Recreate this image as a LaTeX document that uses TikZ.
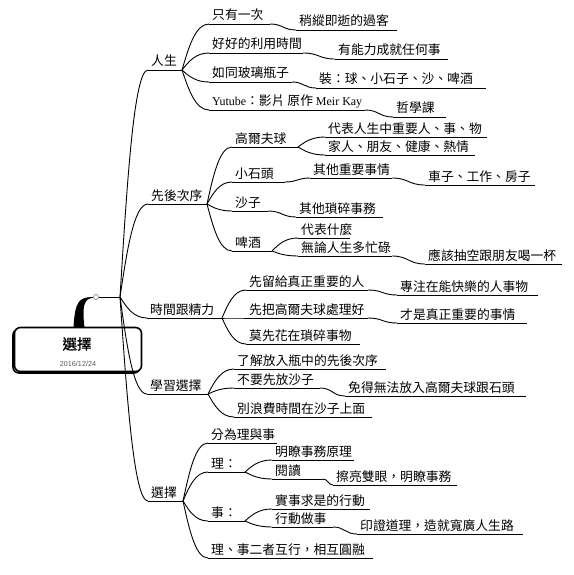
\documentclass[tikz,border=0pt]{standalone}
\usepackage{fontspec}
\newfontfamily\cjk{Noto Sans CJK TC}
\newfontfamily\cjkb[FakeBold=1.2]{Noto Sans CJK TC}
\newfontfamily\latserif{Liberation Serif}
\newfontfamily\latsans{Liberation Sans}
\usetikzlibrary{calc}
\newcommand\mmtopic[5]{%
  \coordinate (#1s) at (#2,#4);
  \coordinate (#1e) at (#3,#4);
  \draw[uline] (#1s) -- (#1e);
  \node[lbl] (#1) at ($(#1s)+(3,-4)$) {#5};
}
\begin{document}
\begin{tikzpicture}[x=1pt,y=-1pt,
  uline/.style={line width=0.9pt},
  conn/.style={line width=0.9pt},
  lbl/.style={anchor=base west, inner sep=0pt, font=\cjk\fontsize{12.8}{15}\selectfont},
  mm/.style={to path={let \p1=(\tikztostart), \p2=(\tikztotarget) in .. controls ({\x1+0.25*(\x2-\x1)},{\y1+0.5*(\y2-\y1)}) and ({\x1+0.5*(\x2-\x1)},\y2) .. (\tikztotarget)}},
  ms/.style={to path={let \p1=(\tikztostart), \p2=(\tikztotarget) in .. controls ({0.5*(\x1+\x2)},\y1) and ({0.5*(\x1+\x2)},\y2) .. (\tikztotarget)}},
  rootbox/.style={draw, line width=1.6pt, rounded corners=6pt, minimum width=127pt, minimum height=44pt, inner sep=0pt, fill=white},
]
\useasboundingbox (0,0) rectangle (573,575);

% central topic
\draw[line width=1.6pt, rounded corners=6pt] (13,329) rectangle (140,373);
\node[rootbox] (root) at (78,349.5) {};
\node[font=\cjkb\fontsize{14.5}{16}\selectfont, inner sep=0pt] (title) at (77,344) {選擇};
\node[font=\latsans\fontsize{7.2}{8}\selectfont, text=black!65, inner sep=0pt] (date) at (78,363.5) {2016/12/24};
\fill (73.5,327.5) .. controls (75,301) and (79,297.2) .. (93,297) -- (93,297.8) .. controls (84,298.5) and (82,306) .. (84.5,327.5) -- cycle;
\node[circle, draw=black!55, fill=white, inner sep=0pt, minimum size=5pt, line width=0.6pt] (knob) at (96,297) {};
\coordinate (H) at (120,297);
\draw[conn] (knob) -- (H);

% main branches
\mmtopic{L1}{148}{182}{70}{人生}
\mmtopic{L2}{148}{207}{204}{先後次序}
\mmtopic{L3}{147}{222}{318}{時間跟精力}
\mmtopic{L4}{147}{208}{394}{學習選擇}
\mmtopic{L5}{148}{183}{501}{選擇}
\foreach \t in {L1,L2,L3,L4,L5} \draw[conn] (H) to[mm] (\t s);

% 人生
\mmtopic{a1}{209}{270}{24}{只有一次}
\mmtopic{a1a}{296}{397}{30}{稍縱即逝的過客}
\mmtopic{a2}{209}{303}{53}{好好的利用時間}
\mmtopic{a2a}{335}{448}{59}{有能力成就任何事}
\mmtopic{a3}{209}{292}{82}{如同玻璃瓶子}
\mmtopic{a3a}{316}{486}{88}{裝：球、小石子、沙、啤酒}
\mmtopic{a4}{209}{365}{110}{{\latserif\fontsize{12}{14}\selectfont Yutube}：影片 原作 {\latserif\fontsize{12}{14}\selectfont Meir Kay}}
\mmtopic{a4a}{393}{446}{117}{哲學課}
\foreach \t in {a1,a2,a3,a4} {\draw[conn] (L1e) to[mm] (\t s); \draw[conn] (\t e) to[ms] (\t as);}

% 先後次序
\mmtopic{b1}{232}{298}{147}{高爾夫球}
\mmtopic{b1a}{325}{487}{137}{代表人生中重要人、事、物}
\mmtopic{b1b}{325}{475}{155}{家人、朋友、健康、熱情}
\mmtopic{b2}{232}{285}{182}{小石頭}
\mmtopic{b2a}{310}{392}{178}{其他重要事情}
\mmtopic{b2b}{425}{535}{185}{車子、工作、房子}
\mmtopic{b3}{232}{268}{211}{沙子}
\mmtopic{b3a}{296}{383}{217}{其他瑣碎事務}
\mmtopic{b4}{232}{272}{251}{啤酒}
\mmtopic{b4a}{298}{350}{238}{代表什麼}
\mmtopic{b4b}{298}{392}{256}{無論人生多忙碌}
\mmtopic{b4c}{425}{562}{264}{應該抽空跟朋友喝一杯}
\foreach \t in {b1,b2,b3,b4} \draw[conn] (L2e) to[mm] (\t s);
\draw[conn] (b1e) to[mm] (b1as);
\draw[conn] (b1e) to[mm] (b1bs);
\draw[conn] (b2e) to[ms] (b2as);
\draw[conn] (b2ae) to[ms] (b2bs);
\draw[conn] (b3e) to[ms] (b3as);
\draw[conn] (b4e) to[mm] (b4as);
\draw[conn] (b4e) to[mm] (b4bs);
\draw[conn] (b4be) to[ms] (b4cs);

% 時間跟精力
\mmtopic{c1}{246}{368}{290}{先留給真正重要的人}
\mmtopic{c1a}{397}{538}{295}{專注在能快樂的人事物}
\mmtopic{c2}{246}{368}{318}{先把高爾夫球處理好}
\mmtopic{c2a}{397}{527}{323}{才是真正重要的事情}
\mmtopic{c3}{246}{360}{344}{莫先花在瑣碎事物}
\foreach \t in {c1,c2,c3} \draw[conn] (L3e) to[mm] (\t s);
\draw[conn] (c1e) to[ms] (c1as);
\draw[conn] (c2e) to[ms] (c2as);

% 學習選擇
\mmtopic{d1}{234}{386}{369}{了解放入瓶中的先後次序}
\mmtopic{d2}{234}{320}{388}{不要先放沙子}
\mmtopic{d2a}{345}{526}{396}{免得無法放入高爾夫球跟石頭}
\mmtopic{d3}{234}{372}{417}{別浪費時間在沙子上面}
\foreach \t in {d1,d2,d3} \draw[conn] (L4e) to[mm] (\t s);
\draw[conn] (d2e) to[ms] (d2as);

% 選擇
\mmtopic{e1}{208}{277}{443}{分為理與事}
\mmtopic{e2}{208}{245}{472}{理：}
\mmtopic{e2a}{272}{354}{460}{明瞭事務原理}
\mmtopic{e2b}{272}{323}{479}{閱讀}
\mmtopic{e2c}{333}{457}{485}{擦亮雙眼，明瞭事務}
\mmtopic{e3}{208}{245}{521}{事：}
\mmtopic{e3a}{272}{370}{509}{實事求是的行動}
\mmtopic{e3b}{272}{333}{527}{行動做事}
\mmtopic{e3c}{357}{523}{534}{印證道理，造就寬廣人生路}
\mmtopic{e4}{208}{373}{558}{理、事二者互行，相互圓融}
\foreach \t in {e1,e2,e3,e4} \draw[conn] (L5e) to[mm] (\t s);
\draw[conn] (e2e) to[mm] (e2as);
\draw[conn] (e2e) to[mm] (e2bs);
\draw[conn] (e2be) to[ms] (e2cs);
\draw[conn] (e3e) to[mm] (e3as);
\draw[conn] (e3e) to[mm] (e3bs);
\draw[conn] (e3be) to[ms] (e3cs);
\end{tikzpicture}
\end{document}
